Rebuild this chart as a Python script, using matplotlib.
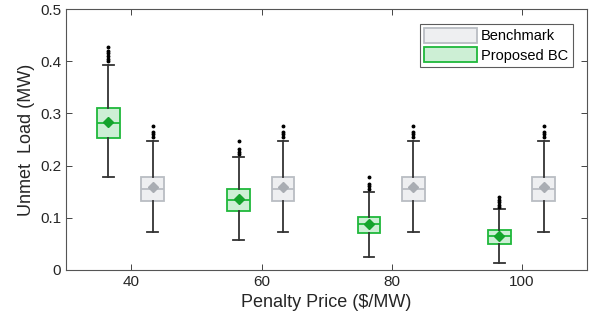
import matplotlib.pyplot as plt
from matplotlib.patches import Patch

plt.rcParams['font.family'] = ['Liberation Sans', 'DejaVu Sans']

prices = [40, 60, 80, 100]

# proposed BC stats per price: whislo, q1, med, mean, q3, whishi
prop_whislo = [0.179, 0.057, 0.024, 0.014]
prop_q1 = [0.252, 0.113, 0.070, 0.050]
prop_med = [0.281, 0.134, 0.0875, 0.065]
prop_mean = [0.284, 0.136, 0.089, 0.066]
prop_q3 = [0.310, 0.155, 0.102, 0.0766]
prop_whishi = [0.393, 0.217, 0.150, 0.116]
prop_fliers = [
    [0.400, 0.405, 0.410, 0.415, 0.420, 0.428],
    [0.222, 0.226, 0.232, 0.247],
    [0.155, 0.160, 0.164, 0.178],
    [0.120, 0.125, 0.130, 0.135, 0.139],
]

# benchmark is the same at every price
bench_whislo = [0.073, 0.073, 0.073, 0.073]
bench_q1 = [0.133, 0.133, 0.133, 0.133]
bench_med = [0.155, 0.155, 0.155, 0.155]
bench_mean = [0.159, 0.159, 0.159, 0.159]
bench_q3 = [0.179, 0.179, 0.179, 0.179]
bench_whishi = [0.248, 0.248, 0.248, 0.248]
bench_fliers = [[0.255, 0.260, 0.265, 0.275]] * 4


def make_stats(lo, q1, med, mean, q3, hi, fl):
    return [dict(whislo=a, q1=b, med=c, mean=d, q3=e, whishi=f, fliers=g)
            for a, b, c, d, e, f, g in zip(lo, q1, med, mean, q3, hi, fl)]


def draw(ax, stats, pos, edge, face, mcol, msize):
    ax.bxp(stats, positions=pos, widths=3.5, showmeans=True, patch_artist=True,
           manage_ticks=False,
           boxprops=dict(facecolor=face, edgecolor=edge, linewidth=1.3),
           medianprops=dict(color=edge, linewidth=1.3),
           whiskerprops=dict(color='#333333', linewidth=1.3),
           capprops=dict(color='#333333', linewidth=1.3),
           capwidths=1.6,
           meanprops=dict(marker='D', markerfacecolor=mcol, markeredgecolor=mcol,
                          markersize=msize),
           flierprops=dict(marker='o', markerfacecolor='black', markeredgecolor='black',
                           markersize=1.8))


fig = plt.figure(figsize=(5.95, 3.26), dpi=100)
ax = fig.add_axes([0.111, 0.172, 0.876, 0.8])

green_edge = '#1fb83a'
green_face = '#cdefd5'
gray_edge = '#b9bdc3'
gray_face = '#eeeff1'

draw(ax, make_stats(prop_whislo, prop_q1, prop_med, prop_mean, prop_q3, prop_whishi, prop_fliers),
     [p - 3.5 for p in prices], green_edge, green_face, '#14a32c', 5)
draw(ax, make_stats(bench_whislo, bench_q1, bench_med, bench_mean, bench_q3, bench_whishi, bench_fliers),
     [p + 3.3 for p in prices], gray_edge, gray_face, '#a9adb3', 5.5)

ax.set_xlim(30, 110)
ax.set_ylim(0, 0.5)
ax.set_xticks(prices)
ax.set_yticks([0, 0.1, 0.2, 0.3, 0.4, 0.5])
ax.set_yticklabels(['0', '0.1', '0.2', '0.3', '0.4', '0.5'])
ax.tick_params(direction='in', top=True, right=True, labelsize=11, colors='#262626',
               length=4, width=0.6)
for s in ax.spines.values():
    s.set_color('#555555')
    s.set_linewidth(0.8)
ax.set_xlabel('Penalty Price ($/MW)', fontsize=13, color='#262626')
ax.set_ylabel('Unmet  Load (MW)', fontsize=13, color='#262626')

handles = [Patch(facecolor=gray_face, edgecolor=gray_edge, linewidth=1.3, label='Benchmark'),
           Patch(facecolor=green_face, edgecolor=green_edge, linewidth=1.3, label='Proposed BC')]
leg = ax.legend(handles=handles, loc='upper right', fontsize=10.5, fancybox=False,
                handlelength=3.6, handleheight=1.2, borderpad=0.3, labelspacing=0.25,
                handletextpad=0.3, borderaxespad=1.0)
leg.get_frame().set_edgecolor('#333333')
leg.get_frame().set_linewidth(0.8)

fig.savefig('out.png', dpi=100)
